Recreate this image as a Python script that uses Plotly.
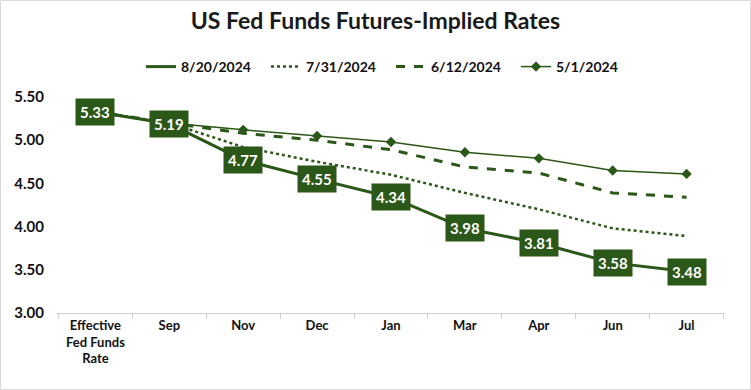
import plotly.graph_objects as go

categories = ["Effective<br>Fed Funds<br>Rate", "Sep", "Nov", "Dec", "Jan", "Mar", "Apr", "Jun", "Jul"]
s_0820 = [5.33, 5.19, 4.77, 4.55, 4.34, 3.98, 3.81, 3.58, 3.48]
s_0731 = [5.33, 5.20, 4.92, 4.75, 4.60, 4.39, 4.20, 3.98, 3.89]
s_0612 = [5.33, 5.20, 5.08, 5.00, 4.89, 4.69, 4.62, 4.39, 4.34]
s_0501 = [5.33, 5.20, 5.12, 5.05, 4.98, 4.86, 4.79, 4.65, 4.61]
y_ticks = [3.0, 3.5, 4.0, 4.5, 5.0, 5.5]

GREEN = "#2B5718"
FONT = "Lato"

fig = go.Figure()
fig.add_trace(go.Scatter(x=categories, y=s_0820, name="8/20/2024", mode="lines",
                         line=dict(color=GREEN, width=3)))
fig.add_trace(go.Scatter(x=categories, y=s_0731, name="7/31/2024", mode="lines",
                         line=dict(color=GREEN, width=2.5, dash="dot")))
fig.add_trace(go.Scatter(x=categories, y=s_0612, name="6/12/2024", mode="lines",
                         line=dict(color=GREEN, width=3, dash="dash")))
fig.add_trace(go.Scatter(x=categories, y=s_0501, name="5/1/2024", mode="lines+markers",
                         line=dict(color=GREEN, width=1.5),
                         marker=dict(symbol="diamond", size=8, color=GREEN)))

for c, v in zip(categories, s_0820):
    fig.add_annotation(x=c, y=v, text=f"{v:.2f}", showarrow=False,
                       bgcolor=GREEN, font=dict(color="white", size=15, family=FONT, weight="bold"),
                       borderpad=4)

fig.update_layout(
    width=751, height=390,
    paper_bgcolor="white", plot_bgcolor="white",
    margin=dict(l=57, r=26, t=97, b=77, autoexpand=False),
    title=dict(text="US Fed Funds Futures-Implied Rates", x=0.5, xanchor="center",
               yref="container", y=1 - 21/390, yanchor="middle",
               font=dict(size=23, family=FONT, color="#1a1a1a", weight="bold")),
    legend=dict(orientation="h", x=0.5, xanchor="center", yref="container", y=1 - 67/390,
                yanchor="middle",
                font=dict(size=14, family=FONT, color="#111", weight="bold"), itemwidth=30,
                entrywidth=80, entrywidthmode="pixels",
                bgcolor="rgba(0,0,0,0)", tracegroupgap=0),
    showlegend=True,
    font=dict(family=FONT),
)
fig.update_xaxes(type="category", showgrid=False, showline=True, linecolor="#d0d0d0",
                 linewidth=1, ticks="outside", tickson="boundaries", tickcolor="#d0d0d0",
                 ticklen=5, tickfont=dict(size=13, family=FONT, color="#111", weight="bold"),
                 zeroline=False, automargin=False)
fig.update_yaxes(range=[3.0, 5.5], tickvals=y_ticks, ticktext=[f"{t:.2f}" for t in y_ticks],
                 showgrid=False, showline=False, zeroline=False, automargin=False,
                 tickfont=dict(size=15, family=FONT, color="#111", weight="bold"), ticks="",
                 ticklabelstandoff=12)
fig.add_shape(type="rect", xref="paper", yref="paper",
              x0=-56.5/668, x1=1 + 25.5/668,
              y0=-76.5/216, y1=1 + 96.5/216, line=dict(color="#d9d9d9", width=1))

fig.write_html("out.html", config={"displayModeBar": False},
               post_script="document.body.style.margin='0';document.body.style.overflow='hidden';")
